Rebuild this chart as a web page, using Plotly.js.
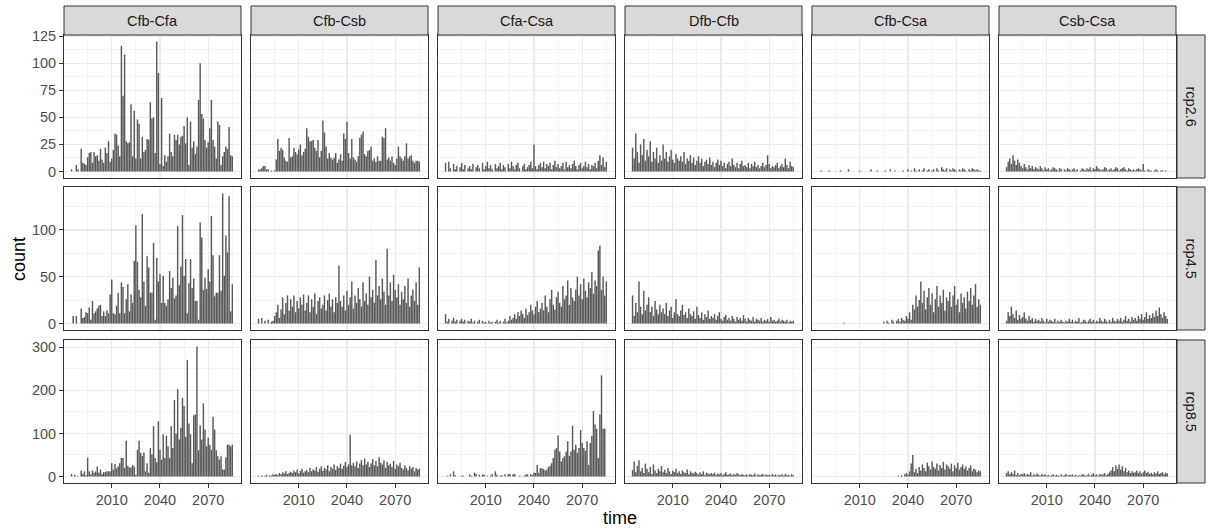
<!DOCTYPE html>
<html><head><meta charset="utf-8">
<script src="https://cdn.plot.ly/plotly-3.0.1.min.js"></script>
<style>html,body{margin:0;padding:0;background:#fff}</style>
</head><body><div id="chart" style="width:1208px;height:530px"></div>
<script>
const transitions = ["Cfb-Cfa","Cfb-Csb","Cfa-Csa","Dfb-Cfb","Cfb-Csa","Csb-Csa"];
const scenarios = ["rcp2.6","rcp4.5","rcp8.5"];
const firstYear = 1985, lastYear = 2085;
const xTicks = [2010, 2040, 2070];
const yTickStep = [25, 50, 100];

// ---- rcp2.6 ----
const rcp26_CfbCfa = [2,0,0,6,2,0,21,8,7,6, 13,17,18,8,18,14,15,10,21,11, 8,22,17,28,9,12,20,35,34,24, 14,116,70,108,28,26,27,62,14,56, 12,48,44,12,32,18,20,30,29,64, 49,50,17,120,91,7,68,5,15,9, 14,35,18,14,34,29,34,25,32,33, 42,26,50,6,46,22,28,16,23,66, 100,53,49,29,22,27,40,66,29,23, 12,46,43,6,14,18,23,21,41,15, 14];
const rcp26_CfbCsb = [2,2,3,5,5,2,2,0,1,0, 1,11,30,19,22,20,13,10,9,31, 13,14,22,18,16,20,25,15,18,21, 40,32,28,28,29,22,19,29,13,19, 47,36,23,12,17,13,11,13,17,8, 11,16,10,35,30,46,17,12,30,13, 11,9,14,31,34,37,16,14,19,20, 23,10,12,9,14,10,10,32,31,40, 11,13,10,14,8,6,12,23,14,12, 10,14,26,12,14,15,10,8,10,10, 9];
const rcp26_CfaCsa = [8,0,9,3,0,7,2,5,0,4, 8,2,6,0,3,5,2,7,0,4, 6,3,0,8,2,5,9,3,6,2, 0,7,3,5,8,2,6,4,0,7, 3,9,5,2,6,8,3,0,5,7, 2,4,6,9,3,25,5,2,6,8, 4,9,3,7,5,8,2,6,10,4, 7,3,5,8,2,9,4,6,3,7, 10,5,2,6,8,3,5,9,4,7, 2,6,5,8,3,10,15,6,13,4, 9];
const rcp26_DfbCfb = [22,12,35,18,8,25,15,30,10,20, 14,28,9,18,12,22,8,15,10,25, 12,18,9,14,20,11,8,16,12,10, 14,9,18,7,12,10,15,8,13,6, 10,14,8,12,5,9,11,7,13,6, 9,4,8,11,6,10,5,8,3,7, 9,5,12,6,4,8,3,7,10,5, 6,4,8,3,7,5,9,4,6,3, 5,8,4,6,15,7,3,5,4,6, 8,3,5,7,4,12,6,3,9,5, 4];
const rcp26_CfbCsa = [0,1,0,0,0,0,1,0,0,0, 0,0,0,1,0,0,0,0,2,0, 0,0,0,0,0,1,0,0,0,0, 0,0,2,0,0,0,1,0,0,0, 0,1,0,0,2,0,0,1,0,0, 0,0,1,0,0,2,0,1,0,3, 1,0,2,0,1,3,0,1,2,0, 1,2,0,3,1,0,4,2,1,3, 0,2,1,3,2,1,0,2,1,3, 2,1,0,2,1,3,2,1,2,1, 1];
const rcp26_CsbCsa = [4,9,12,7,15,10,6,11,8,5, 3,7,4,2,6,3,5,2,4,3, 2,5,3,1,4,2,3,1,2,4, 3,2,1,3,2,0,2,1,3,2, 1,2,3,1,2,0,1,3,2,1, 3,2,4,1,3,2,5,3,2,1, 2,4,3,1,2,3,1,2,4,3, 1,2,3,4,2,1,3,2,1,2, 1,2,3,2,1,7,1,0,2,1, 1,0,1,2,1,0,1,1,0,1, 0];

// ---- rcp4.5 ----
const rcp45_CfbCfa = [0,8,0,8,0,0, 16,6,7,12,11,17,4,24,11,13, 16,19,20,8,13,8,14,11,31,47, 11,10,19,33,11,44,39,11,26,42, 13,31, 22,67,105,66,36,28,117,45,19,72, 60,33,33,86,4,70,45,53,22,51, 22,19,26,56,38,49,27,30,104,41, 61,116,51,69,11,43,69,38,48,24, 24,4,108,92,36,49,37,58,45,115, 73,29,33,33,73,35,139,51,94,76, 136,13,42];
const rcp45_CfbCsb = [5,0,6,0,3,0,4,0,2,3, 8,12,20,6,15,28,10,22,30,14, 26,18,30,12,24,16,28,20,31,14, 22,30,12,26,18,32,10,24,28,16, 20,30,14,25,32,18,26,12,28,22, 62,24,18,30,14,35,20,28,45,16, 30,22,38,26,18,44,24,32,20,50, 28,36,22,68,30,40,26,48,34,20, 80,30,44,24,52,36,28,42,20,34, 26,40,22,48,18,30,36,24,44,20, 60];
const rcp45_CfaCsa = [10,2,5,0,3,6,2,4,0,3, 5,2,4,0,3,2,5,1,3,0, 2,4,0,3,1,2,0,3,1,2, 0,2,4,1,3,0,2,5,1,3, 8,4,6,10,5,12,8,14,10,6, 16,9,12,20,14,10,18,24,12,16, 22,14,30,18,12,26,36,20,15,28, 34,22,18,40,26,30,46,20,38,28, 24,36,50,30,42,26,48,35,28,44, 38,55,32,46,40,78,83,36,50,30, 45];
const rcp45_DfbCfb = [30,8,22,12,45,18,10,35,14,20, 28,12,18,8,24,15,10,20,12,16, 10,22,8,14,18,6,12,26,10,8, 14,20,9,12,6,16,10,8,13,5, 18,9,6,12,4,10,7,14,5,8, 6,10,4,8,12,5,3,7,9,4, 6,3,8,5,2,7,4,6,3,9, 5,2,6,4,3,7,2,5,4,3, 6,2,4,3,5,2,7,3,4,2, 3,5,2,4,3,2,4,1,3,2, 3];
const rcp45_CfbCsa = [0,0,0,0,0,0,0,0,0,0, 0,0,0,0,0,1,0,0,0,0, 0,0,0,0,0,0,0,0,0,0, 0,0,0,0,0,0,0,0,0,0, 2,0,3,1,0,4,2,0,3,5, 2,6,4,3,8,5,12,4,20,15, 30,18,25,45,22,35,15,28,38,20, 32,12,26,40,18,30,22,36,14,28, 24,34,18,30,40,20,26,12,32,22, 28,16,34,24,38,20,30,42,18,26, 20];
const rcp45_CsbCsa = [3,12,8,18,10,6,14,4,9,5, 7,12,5,3,8,4,6,2,5,3, 4,2,6,3,1,5,2,4,3,2, 5,1,3,2,4,2,1,3,2,5, 2,4,1,3,2,6,1,2,4,3, 1,3,5,2,4,1,3,2,6,3, 2,5,3,1,4,2,6,3,2,5, 3,6,2,4,8,3,5,2,7,4, 6,3,8,5,10,4,7,12,5,9, 6,11,7,14,8,17,10,6,12,8, 5];

// ---- rcp8.5 ----
const rcp85_CfbCfa = [6,0,4,0,2,0,14,6,12,3, 44,12,5,14,9,12,23,9,16,6, 10,10,12,12,12,31,16,29,19,23, 31,43,43,20,83,25,21,21,27,23, 4,62,83,55,48,56,12,31,9,66, 51,117,43,33,128,62,39,98,43,95, 70,43,117,66,178,100,203,86,113,183, 164,92,271,123,98,31,142,144,302,61, 119,86,170,109,70,90,74,62,139,109, 61,47,39,47,16,16,45,74,74,70, 74];
const rcp85_CfbCsb = [2,0,3,0,2,4,0,3,2,5, 4,6,3,8,5,10,7,12,6,9, 11,8,14,10,16,7,13,18,9,12, 15,10,20,12,17,14,22,11,18,24, 13,20,16,26,12,22,18,28,15,24, 20,30,18,25,34,22,28,97,26,32, 24,35,20,30,38,26,42,28,34,22, 30,40,26,36,24,45,32,28,38,20, 34,26,30,22,36,18,28,24,32,20, 16,26,20,14,24,18,22,12,20,16, 18];
const rcp85_CfaCsa = [0,2,0,5,0,12,3,0,0,0, 2,2,0,0,0,5,2,0,9,6, 0,4,0,5,4,0,2,0,2,6, 0,12,4,0,2,3,0,5,0,5, 6,0,5,6,0,0,2,0,0,2, 5,5,0,6,3,9,8,27,9,19, 19,17,14,16,22,25,31,43,62,66, 95,58,35,43,47,58,82,48,58,118, 62,74,55,66,108,78,66,60,82,27, 78,94,152,121,111,43,144,235,111,111, 0];
const rcp85_DfbCfb = [15,35,10,25,38,12,20,8,30,18, 10,22,6,28,14,8,18,12,24,10, 16,8,20,12,6,14,10,18,8,12, 6,14,10,8,16,5,12,9,7,11, 8,5,10,6,12,4,9,7,5,8, 6,9,4,7,5,8,3,6,10,4, 5,7,3,6,4,8,5,3,6,4, 3,5,2,6,4,3,7,2,5,3, 4,6,2,5,3,4,2,6,3,5, 2,4,3,5,2,6,3,4,2,5, 3];
const rcp85_CfbCsa = [0,0,0,0,0,0,0,0,0,0, 0,0,0,0,0,0,0,0,0,0, 0,0,0,0,0,0,0,0,0,0, 0,0,0,0,0,0,0,0,0,0, 0,0,0,0,0,0,0,0,0,2, 0,3,0,5,8,4,12,30,50,10, 18,8,22,14,28,20,12,32,24,16, 35,22,18,30,14,26,20,34,16,28, 24,18,30,12,26,20,32,16,22,28, 18,24,14,20,26,12,18,16,10,14, 12];
const rcp85_CsbCsa = [8,12,5,10,6,14,4,8,3,6, 5,8,3,6,4,10,2,5,3,7, 4,2,6,3,5,2,4,1,3,5, 2,4,3,1,5,2,3,6,2,4, 3,5,2,4,1,3,2,5,4,2, 3,6,2,4,8,3,5,2,6,4, 5,8,3,6,10,14,22,12,26,18, 28,16,24,12,20,10,14,8,12,9, 10,14,8,12,6,10,14,8,11,6, 9,5,10,7,12,6,8,10,5,9, 7];

const table = [
  [rcp26_CfbCfa, rcp26_CfbCsb, rcp26_CfaCsa, rcp26_DfbCfb, rcp26_CfbCsa, rcp26_CsbCsa],
  [rcp45_CfbCfa, rcp45_CfbCsb, rcp45_CfaCsa, rcp45_DfbCfb, rcp45_CfbCsa, rcp45_CsbCsa],
  [rcp85_CfbCfa, rcp85_CfbCsb, rcp85_CfaCsa, rcp85_DfbCfb, rcp85_CfbCsa, rcp85_CsbCsa]
];
const years = [];
for (let y = firstYear; y <= lastYear; y++) years.push(y);

// ---- layout geometry (pixels) ----
const W = 1208, H = 530;
const colLeft0 = 64, colW = 177, colGap = 10;
const rowTops = [35, 187, 340], rowH = 143;
const stripTop = 6;
const stripRightX = [1177, 1205];
const px = v => v / W, py = v => 1 - v / H;

const FONT = "Liberation Sans, Arial, sans-serif";
const traces = [];
const layout = {
  width: W, height: H,
  margin: {l: 0, r: 0, t: 0, b: 0},
  paper_bgcolor: "#ffffff", plot_bgcolor: "#ffffff",
  showlegend: false, bargap: 0.1,
  font: {family: FONT, color: "#4D4D4D", size: 14.5},
  shapes: [], annotations: []
};

const xRange = [1980.3, 2090.4];

for (let r = 0; r < 3; r++) {
  let rowMax = 0;
  table[r].forEach(a => a.forEach(v => { if (v > rowMax) rowMax = v; }));
  const yRange = [-0.05 * rowMax, 1.05 * rowMax];
  for (let c = 0; c < 6; c++) {
    const k = r * 6 + c + 1;
    const xl = colLeft0 + c * (colW + colGap), xr = xl + colW;
    const yt = rowTops[r], yb = yt + rowH;
    traces.push({
      type: "bar", x: years, y: table[r][c],
      xaxis: "x" + k, yaxis: "y" + k,
      marker: {color: "#595959", line: {width: 0}},
      hoverinfo: "skip", showlegend: false
    });
    layout["xaxis" + k] = {
      domain: [px(xl), px(xr)], anchor: "y" + k, range: xRange,
      tickmode: "array", tickvals: xTicks,
      showticklabels: r === 2, ticks: r === 2 ? "outside" : "",
      ticklen: 4, tickwidth: 1, tickcolor: "#333333",
      tickfont: {family: FONT, size: 14.5, color: "#4D4D4D"},
      showgrid: true, gridcolor: "#EBEBEB", gridwidth: 1.3,
      minor: {tickmode: "array", tickvals: [1995, 2025, 2055, 2085], showgrid: true, gridcolor: "#EBEBEB", gridwidth: 0.6, ticks: ""},
      zeroline: false, showline: true, mirror: true, linecolor: "#333333", linewidth: 1,
      fixedrange: true
    };
    layout["yaxis" + k] = {
      domain: [py(yb), py(yt)], anchor: "x" + k, range: yRange,
      tick0: 0, dtick: yTickStep[r],
      showticklabels: c === 0, ticks: c === 0 ? "outside" : "",
      ticklen: 4, tickwidth: 1, tickcolor: "#333333",
      tickfont: {family: FONT, size: 14.5, color: "#4D4D4D"},
      showgrid: true, gridcolor: "#EBEBEB", gridwidth: 1.3,
      minor: {tick0: yTickStep[r] / 2, dtick: yTickStep[r], showgrid: true, gridcolor: "#EBEBEB", gridwidth: 0.6, ticks: ""},
      zeroline: false, showline: true, mirror: true, linecolor: "#333333", linewidth: 1,
      fixedrange: true
    };
  }
}

// top strips
for (let c = 0; c < 6; c++) {
  const xl = colLeft0 + c * (colW + colGap), xr = xl + colW;
  layout.shapes.push({type: "rect", xref: "paper", yref: "paper",
    x0: px(xl), x1: px(xr), y0: py(rowTops[0]), y1: py(stripTop),
    fillcolor: "#D9D9D9", line: {color: "#333333", width: 1}});
  layout.annotations.push({xref: "paper", yref: "paper", x: px((xl + xr) / 2), y: py((stripTop + rowTops[0]) / 2),
    text: transitions[c], showarrow: false, xanchor: "center", yanchor: "middle",
    font: {family: FONT, size: 14.5, color: "#1A1A1A"}});
}
// right strips
for (let r = 0; r < 3; r++) {
  const yt = rowTops[r], yb = yt + rowH;
  layout.shapes.push({type: "rect", xref: "paper", yref: "paper",
    x0: px(stripRightX[0]), x1: px(stripRightX[1]), y0: py(yb), y1: py(yt),
    fillcolor: "#D9D9D9", line: {color: "#333333", width: 1}});
  layout.annotations.push({xref: "paper", yref: "paper", x: px((stripRightX[0] + stripRightX[1]) / 2), y: py((yt + yb) / 2),
    text: scenarios[r], showarrow: false, textangle: 90, xanchor: "center", yanchor: "middle",
    font: {family: FONT, size: 14.5, color: "#1A1A1A"}});
}
// axis titles
layout.annotations.push({xref: "paper", yref: "paper", x: px(620), y: py(518), text: "time", showarrow: false,
  xanchor: "center", yanchor: "middle", font: {family: FONT, size: 18, color: "#000000"}});
layout.annotations.push({xref: "paper", yref: "paper", x: px(19), y: py(259), text: "count", showarrow: false, textangle: -90,
  xanchor: "center", yanchor: "middle", font: {family: FONT, size: 18, color: "#000000"}});

Plotly.newPlot("chart", traces, layout, {staticPlot: true, displayModeBar: false});
</script></body></html>
